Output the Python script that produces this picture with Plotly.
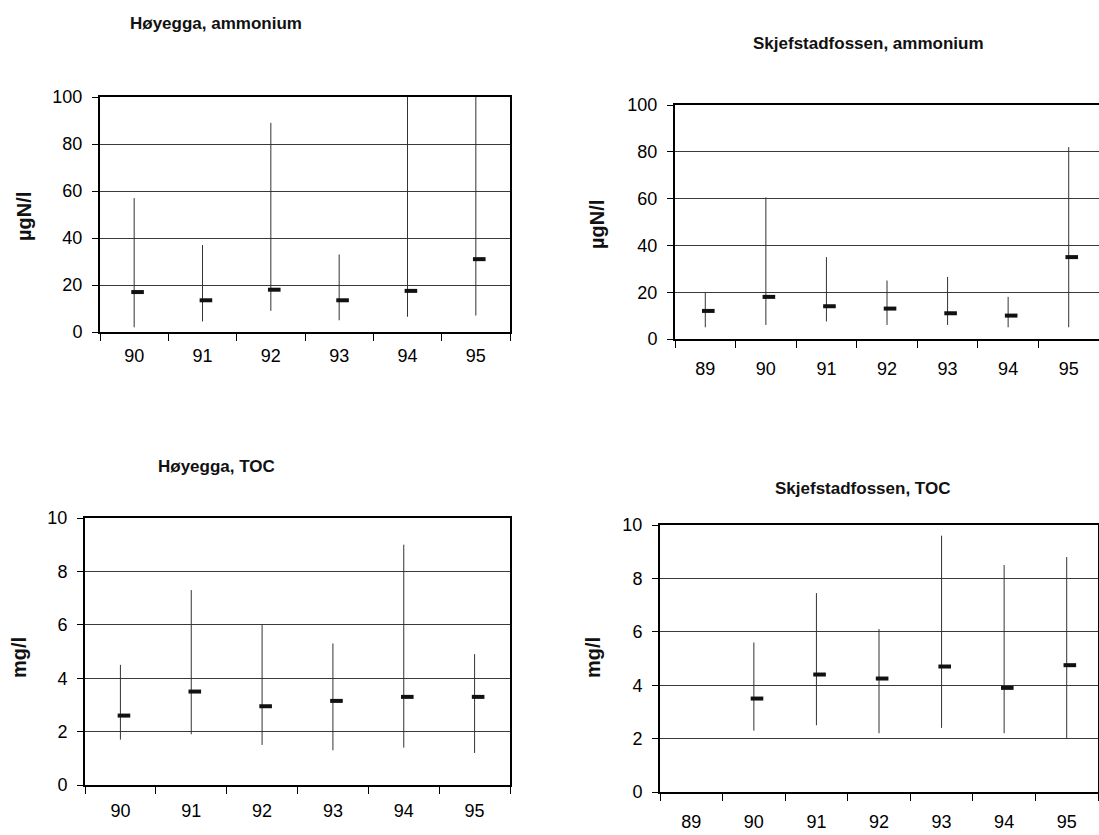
import plotly.graph_objects as go

W, H = 1099, 835

# ---------------- data ----------------
hoy_years = ["90", "91", "92", "93", "94", "95"]
hoy_nh4_mean = [17, 13.5, 18, 13.5, 17.5, 31]
hoy_nh4_min = [2, 4.5, 9, 5, 6.5, 7]
hoy_nh4_max = [57, 37, 89, 33, 100, 100]

skj_years = ["89", "90", "91", "92", "93", "94", "95"]
skj_nh4_mean = [12, 18, 14, 13, 11, 10, 35]
skj_nh4_min = [5, 6, 7.5, 6, 6, 5, 5]
skj_nh4_max = [20, 60.5, 35, 25, 26.5, 18, 82]

hoy_toc_mean = [2.6, 3.5, 2.95, 3.15, 3.3, 3.3]
hoy_toc_min = [1.7, 1.9, 1.5, 1.3, 1.4, 1.2]
hoy_toc_max = [4.5, 7.3, 6.0, 5.3, 9.0, 4.9]

skj_toc_mean = [None, 3.5, 4.4, 4.25, 4.7, 3.9, 4.75]
skj_toc_min = [None, 2.3, 2.5, 2.2, 2.4, 2.2, 2.0]
skj_toc_max = [None, 5.6, 7.45, 6.1, 9.6, 8.5, 8.8]

titles = ["Høyegga, ammonium", "Skjefstadfossen, ammonium",
          "Høyegga, TOC", "Skjefstadfossen, TOC"]
units = ["µgN/l", "µgN/l", "mg/l", "mg/l"]

# ---------------- layout geometry (pixels) ----------------
panels = [
    dict(x0=100, x1=510, yt=97, yb=332, yr=[0, 100], dt=20,
         years=hoy_years, mean=hoy_nh4_mean, lo=hoy_nh4_min, hi=hoy_nh4_max,
         tt=(216, 24), ut=(24, 217), stand=6),
    dict(x0=675, x1=1099, yt=105, yb=339, yr=[0, 100], dt=20,
         years=skj_years, mean=skj_nh4_mean, lo=skj_nh4_min, hi=skj_nh4_max,
         tt=(868, 43), ut=(597, 225), stand=12),
    dict(x0=85, x1=510, yt=518, yb=785, yr=[0, 10], dt=2,
         years=hoy_years, mean=hoy_toc_mean, lo=hoy_toc_min, hi=hoy_toc_max,
         tt=(216, 466), ut=(19, 658), stand=8),
    dict(x0=660, x1=1098, yt=525, yb=792, yr=[0, 10], dt=2,
         years=skj_years, mean=skj_toc_mean, lo=skj_toc_min, hi=skj_toc_max,
         tt=(862, 488), ut=(593, 658), stand=12),
]

FONT = "Liberation Sans, Arial, sans-serif"
MARK_DX = 0.05

def px(x):
    return min(x / W, 1.0)

def py(y):
    return 1 - y / H

fig = go.Figure()
layout = dict(width=W, height=H, margin=dict(l=0, r=0, t=0, b=0, pad=0),
              autosize=False, paper_bgcolor="white", plot_bgcolor="white",
              showlegend=False, annotations=[])

for k, p in enumerate(panels):
    n = len(p["years"])
    idx = list(range(n))
    xa = "x" if k == 0 else f"x{k+1}"
    ya = "y" if k == 0 else f"y{k+1}"
    plus = [None if m is None else h - m for m, h in zip(p["mean"], p["hi"])]
    minus = [None if m is None else m - l for m, l in zip(p["mean"], p["lo"])]
    # range lines (min..max)
    fig.add_trace(go.Scatter(
        x=idx, y=p["mean"], xaxis=xa, yaxis=ya, mode="markers",
        marker=dict(size=1, opacity=0),
        error_y=dict(type="data", symmetric=False, array=plus, arrayminus=minus,
                     width=0, thickness=1, color="#333333"),
        hoverinfo="skip"))
    # mean marker
    fig.add_trace(go.Scatter(
        x=[i + MARK_DX for i in idx], y=p["mean"], xaxis=xa, yaxis=ya,
        mode="markers",
        marker=dict(symbol="line-ew", size=9, color="#111111",
                    line=dict(width=4, color="#111111")),
        cliponaxis=False))

    xkey = "xaxis" if k == 0 else f"xaxis{k+1}"
    ykey = "yaxis" if k == 0 else f"yaxis{k+1}"
    layout[xkey] = dict(
        domain=[px(p["x0"]), px(p["x1"])], anchor=ya, automargin=False,
        range=[-0.5, n - 0.5], tickmode="array", tickvals=idx,
        ticktext=p["years"], ticks="", showgrid=False, zeroline=False,
        showline=True, linecolor="black", linewidth=2, mirror=True,
        ticklabelstandoff=p["stand"],
        tickfont=dict(family=FONT, size=18, color="black"),
        minor=dict(tickmode="linear", tick0=-0.5, dtick=1, ticks="outside",
                   ticklen=7, tickwidth=1, tickcolor="black", showgrid=False),
        fixedrange=True)
    layout[ykey] = dict(
        domain=[py(p["yb"]), py(p["yt"])], anchor=xa, automargin=False,
        range=p["yr"], dtick=p["dt"], tick0=0, ticks="outside", ticklen=6,
        tickwidth=1, tickcolor="black", showgrid=True, gridcolor="#3a3a3a",
        gridwidth=1, zeroline=False, showline=True, linecolor="black",
        linewidth=2, mirror=True, ticklabelstandoff=6,
        tickfont=dict(family=FONT, size=18, color="black"), fixedrange=True)

    layout["annotations"].append(dict(
        x=px(p["tt"][0]), y=py(p["tt"][1]), xref="paper", yref="paper",
        text=f"<b>{titles[k]}</b>", showarrow=False, xanchor="center",
        yanchor="middle", font=dict(family=FONT, size=17, color="#111111")))
    layout["annotations"].append(dict(
        x=px(p["ut"][0]), y=py(p["ut"][1]), xref="paper", yref="paper",
        text=f"<b>{units[k]}</b>", showarrow=False, xanchor="center",
        yanchor="middle", textangle=-90,
        font=dict(family=FONT, size=20, color="#111111")))

fig.update_layout(**layout)
fig.write_html("out.html", config={"displayModeBar": False},
               post_script="document.body.style.margin='0';"
                           "document.body.style.overflow='hidden';")
